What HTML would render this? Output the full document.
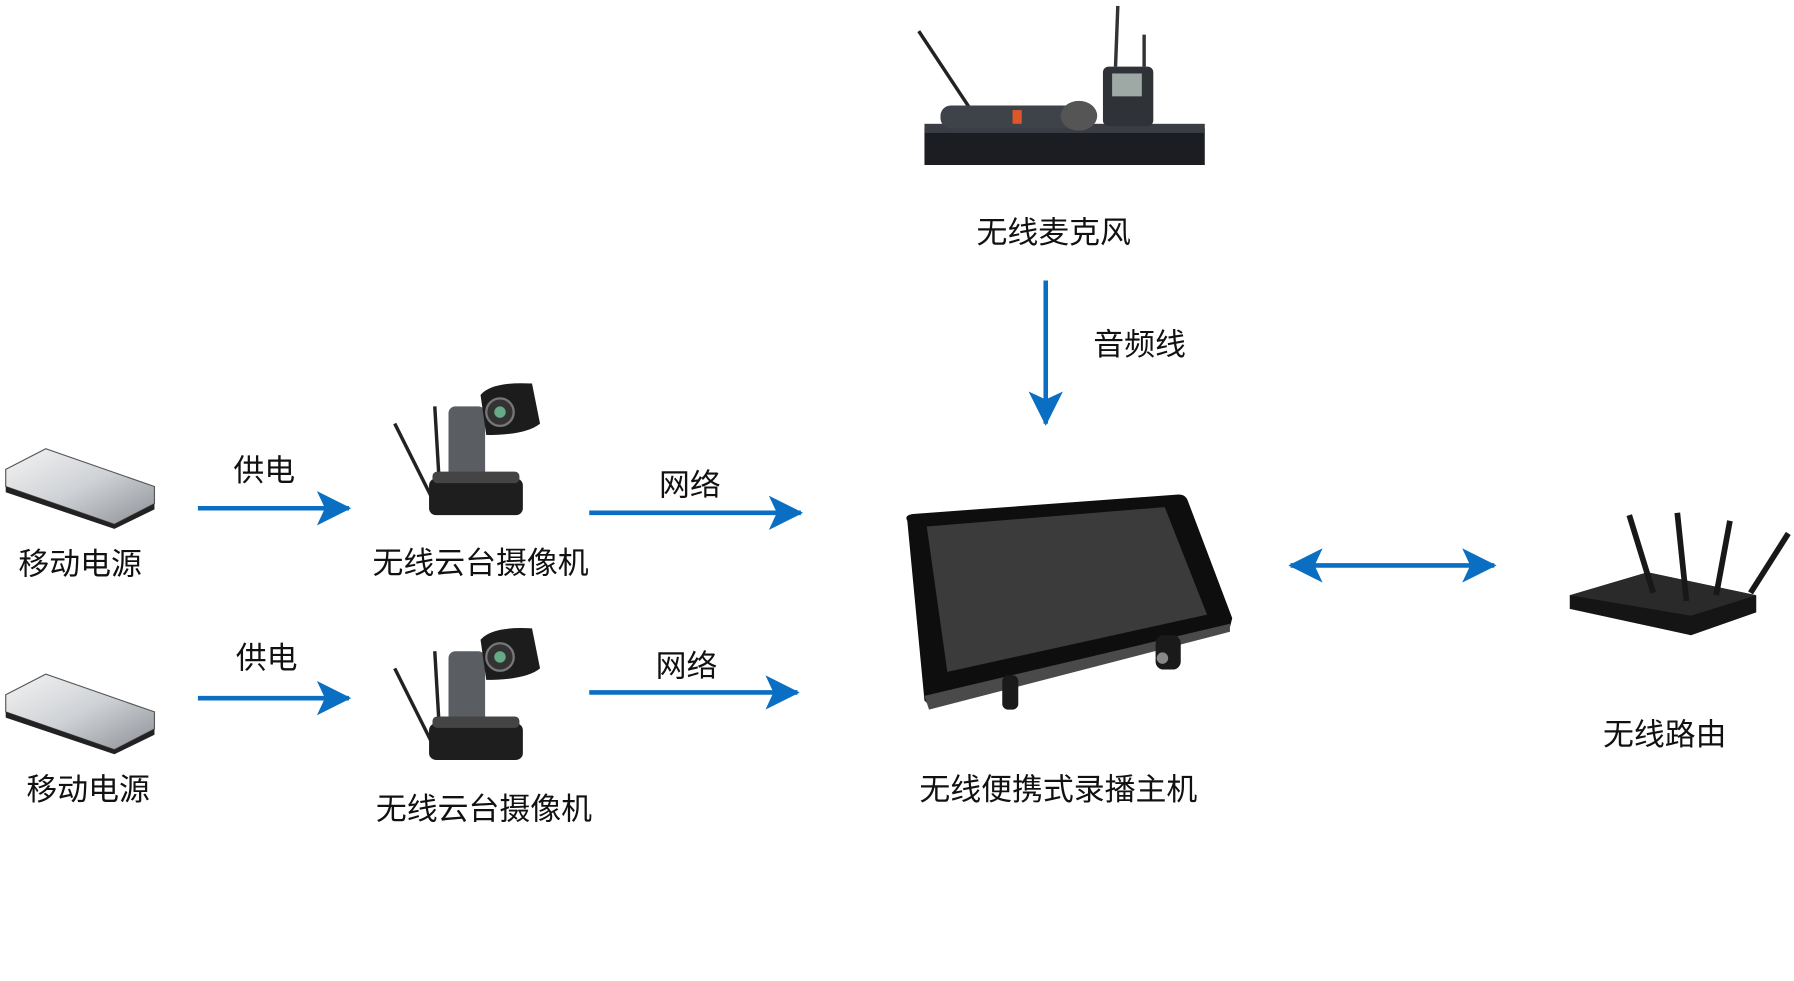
<!DOCTYPE html>
<html><head><meta charset="utf-8"><style>
html,body{margin:0;padding:0;background:#fff;}
svg{display:block}
text{font-family:"Liberation Sans","Noto Sans CJK SC",sans-serif;font-size:27px;fill:#111;text-anchor:middle}
</style></head><body>
<svg width="1794" height="981" viewBox="0 0 1568 857" xmlns="http://www.w3.org/2000/svg">
<defs>
<marker id="ah" viewBox="0 0 30 30" refX="28" refY="15" markerWidth="30" markerHeight="30" markerUnits="userSpaceOnUse" orient="auto-start-reverse">
<path d="M0,0 L30,15 L0,30 L7,15 Z" fill="#0a6fc2"/></marker>
<linearGradient id="pb" x1="0" y1="0" x2="1" y2="1"><stop offset="0" stop-color="#f4f4f4"/><stop offset="0.5" stop-color="#cfd2d6"/><stop offset="1" stop-color="#8d9096"/></linearGradient>
<g id="bank">
<path d="M5,410 L40,392 L135,425 L135,440 L100,458 L5,425 Z" fill="url(#pb)" stroke="#555" stroke-width="1"/>
<path d="M5,425 L100,458 L135,440 L135,445 L100,462 L5,430 Z" fill="#222"/>
</g>
<g id="cam">
<path d="M345,370 L380,440" stroke="#222" stroke-width="3"/>
<path d="M380,355 L385,440" stroke="#222" stroke-width="3"/>
<rect x="392" y="355" width="32" height="70" rx="6" fill="#5a5d62"/>
<path d="M420,345 Q430,333 465,335 L472,370 Q460,380 425,380 Z" fill="#1c1c1c"/>
<circle cx="437" cy="360" r="12" fill="#333" stroke="#777" stroke-width="2"/>
<circle cx="437" cy="360" r="5" fill="#6a8"/>
<rect x="375" y="418" width="82" height="32" rx="6" fill="#1e1e1e"/>
<rect x="378" y="412" width="76" height="10" rx="4" fill="#444"/>
</g>
</defs>

<g>
<rect x="808" y="112" width="245" height="32" fill="#1b1d22"/>
<rect x="808" y="108" width="245" height="8" fill="#3a3d44"/>
<path d="M803,27 L850,98" stroke="#222" stroke-width="3"/>
<rect x="822" y="92" width="135" height="20" rx="9" fill="#3e4249"/>
<rect x="885" y="96" width="8" height="12" fill="#e0562b"/>
<ellipse cx="943" cy="101" rx="16" ry="13" fill="#555"/>
<rect x="964" y="58" width="44" height="52" rx="5" fill="#2f3237"/>
<rect x="972" y="64" width="26" height="20" fill="#9ea8a4"/>
<path d="M977,5 L975,58 M1000,30 L1000,58" stroke="#333" stroke-width="3"/>
</g>
<text x="921" y="212">无线麦克风</text>

<line x1="914" y1="245" x2="914" y2="370" stroke="#0a6fc2" stroke-width="4" marker-end="url(#ah)"/>
<text x="996" y="310">音频线</text>

<use href="#bank"/>
<text x="70" y="502">移动电源</text>
<text x="231" y="420">供电</text>
<line x1="173" y1="444" x2="305" y2="444" stroke="#0a6fc2" stroke-width="4" marker-end="url(#ah)"/>
<use href="#cam"/>
<text x="420" y="501">无线云台摄像机</text>
<text x="603" y="433">网络</text>
<line x1="515" y1="448" x2="700" y2="448" stroke="#0a6fc2" stroke-width="4" marker-end="url(#ah)"/>

<use href="#bank" transform="translate(0,197)"/>
<text x="77" y="699">移动电源</text>
<text x="233" y="584">供电</text>
<line x1="173" y1="610" x2="305" y2="610" stroke="#0a6fc2" stroke-width="4" marker-end="url(#ah)"/>
<use href="#cam" transform="translate(0,214)"/>
<text x="423" y="716">无线云台摄像机</text>
<text x="600" y="591">网络</text>
<line x1="515" y1="605" x2="697" y2="605" stroke="#0a6fc2" stroke-width="4" marker-end="url(#ah)"/>

<path d="M793,455 Q790,450 798,449 L1030,432 Q1036,432 1038,437 L1077,540 L1075,548 L820,612 L812,616 L808,612 Z" fill="#0e0e0e"/>
<path d="M808,608 L1075,545 L1075,552 L812,620 Z" fill="#4a4a4a"/>
<path d="M810,460 L1018,443 L1055,537 L828,587 Z" fill="#3a3b3a"/>
<rect x="876" y="590" width="14" height="30" rx="5" fill="#1a1a1a"/>
<rect x="1010" y="555" width="22" height="30" rx="7" fill="#1a1a1a"/>
<circle cx="1016" cy="575" r="5" fill="#888"/>
<text x="925" y="699">无线便携式录播主机</text>

<line x1="1128" y1="494" x2="1306" y2="494" stroke="#0a6fc2" stroke-width="4" marker-start="url(#ah)" marker-end="url(#ah)"/>

<path d="M1372,520 L1440,500 L1535,520 L1535,535 L1478,555 L1372,532 Z" fill="#151515"/>
<path d="M1372,520 L1440,500 L1535,520 L1478,538 Z" fill="#2a2a2a"/>
<path d="M1424,450 L1445,518 M1466,448 L1474,525 M1512,455 L1500,520 M1563,466 L1530,518" stroke="#181818" stroke-width="5"/>
<text x="1455" y="651">无线路由</text>
</svg>
</body></html>
